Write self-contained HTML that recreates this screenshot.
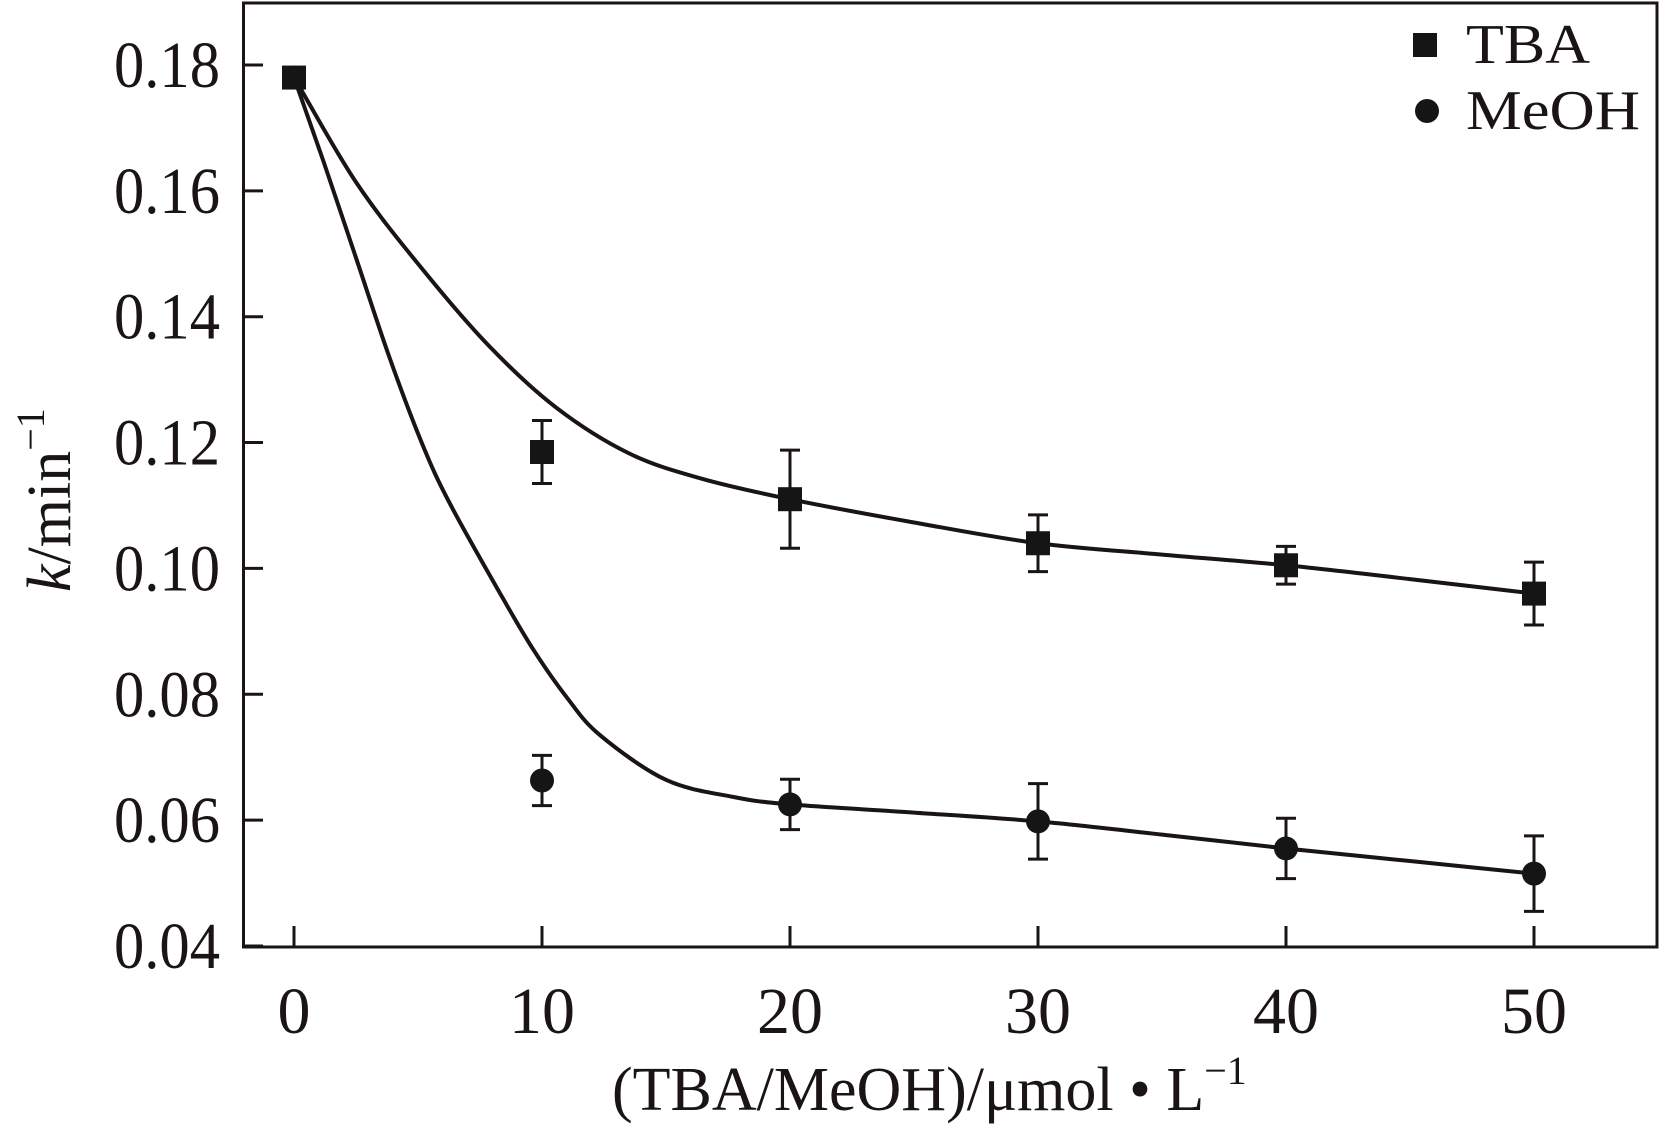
<!DOCTYPE html>
<html><head><meta charset="utf-8"><style>
html,body{margin:0;padding:0;background:#fff}
svg{display:block}
text{font-family:"Liberation Serif",serif;fill:#1a1414}
</style></head><body>
<svg id="chart" width="1662" height="1131" viewBox="0 0 1662 1131">
<rect x="243.5" y="3" width="1413.5" height="944" fill="none" stroke="#1a1414" stroke-width="3"/>
<g id="axes"></g>
<g id="series"></g>
<g>
<rect x="1413" y="33" width="24" height="24" fill="#151515"/>
<text x="1466" y="63" font-size="56" textLength="124" lengthAdjust="spacingAndGlyphs">TBA</text>
<circle cx="1427" cy="111" r="12" fill="#151515"/>
<text x="1466" y="129" font-size="56" textLength="174" lengthAdjust="spacingAndGlyphs">MeOH</text>
</g>
<text transform="translate(70,592) rotate(-90)" font-size="62"><tspan font-style="italic">k</tspan>/min<tspan font-size="40" dy="-26">−1</tspan></text>
<text x="612" y="1110" font-size="62">(TBA/MeOH)/μmol • L<tspan font-size="40" dy="-26">−1</tspan></text>
</svg>
<script>
const xTicks=[0,10,20,30,40,50];
const yTicks=[0.04,0.06,0.08,0.10,0.12,0.14,0.16,0.18];
const yTickLabels=["0.04","0.06","0.08","0.10","0.12","0.14","0.16","0.18"];
const concX=[0,10,20,30,40,50];
const tbaK=[0.178,0.1185,0.111,0.104,0.1005,0.096];
const tbaErr=[0.0005,0.005,0.0078,0.0045,0.003,0.005];
const meohK=[0.178,0.0663,0.0625,0.0598,0.0555,0.0515];
const meohErr=[0.0005,0.004,0.004,0.006,0.0048,0.006];
const tbaFitX=[0,2.53,5.21,7.9,10.59,13.5,16.4,20,25,30,35,40,45,50];
const tbaFitK=[0.178,0.1612,0.1474,0.1352,0.1255,0.1183,0.1143,0.111,0.1073,0.104,0.1022,0.1005,0.0983,0.096];
const meohFitX=[0,1.17,2.53,3.87,5.2,6.3,8.3,9.65,11.0,12.34,15.0,17.7,20,25,30,35,40,45,50];
const meohFitK=[0.178,0.1649,0.149,0.1333,0.1195,0.1102,0.0961,0.0871,0.0795,0.0735,0.0664,0.0637,0.0625,0.0612,0.0598,0.0577,0.0555,0.0535,0.0515];

const X=v=>294+v*24.8;
const Y=v=>946-(v-0.04)*6293;
const NS="http://www.w3.org/2000/svg";
function mk(tag,attrs,parent){const e=document.createElementNS(NS,tag);for(const k in attrs)e.setAttribute(k,attrs[k]);parent.appendChild(e);return e;}
const axes=document.getElementById('axes');
const series=document.getElementById('series');
const col="#1a1414";
xTicks.forEach(t=>{
  const l=mk('line',{x1:X(t),x2:X(t),y1:946,y2:926,stroke:col,'stroke-width':3},axes);
  
  
  const tx=mk('text',{x:X(t),y:1033,'font-size':66,'text-anchor':'middle'},axes);
  
  
  tx.textContent=String(t);
});
yTicks.forEach((t,i)=>{
  const l=mk('line',{x1:243.5,x2:263,y1:Y(t),y2:Y(t),stroke:col,'stroke-width':3},axes);
  
  
  const tx=mk('text',{x:220,y:Y(t)+22,'font-size':66,'text-anchor':'end',textLength:106,lengthAdjust:'spacingAndGlyphs'},axes);
  
  
  tx.textContent=yTickLabels[i];
});
function spline(xs,ys){
  const p=xs.map((x,i)=>[X(x),Y(ys[i])]);
  let d=`M${p[0][0]},${p[0][1]}`;
  for(let i=0;i<p.length-1;i++){
    const p1=p[i],p2=p[i+1];
    const p0=i>0?p[i-1]:[2*p1[0]-p2[0],2*p1[1]-p2[1]];
    const p3=i+2<p.length?p[i+2]:[2*p2[0]-p1[0],2*p2[1]-p1[1]];
    const c1=[p1[0]+(p2[0]-p0[0])/6,p1[1]+(p2[1]-p0[1])/6];
    const c2=[p2[0]-(p3[0]-p1[0])/6,p2[1]-(p3[1]-p1[1])/6];
    d+=`C${c1[0]},${c1[1]} ${c2[0]},${c2[1]} ${p2[0]},${p2[1]}`;
  }
  return d;
}
const f1=mk('path',{d:spline(meohFitX,meohFitK),fill:'none',stroke:col,'stroke-width':4},series);


const f2=mk('path',{d:spline(tbaFitX,tbaFitK),fill:'none',stroke:col,'stroke-width':4},series);


function errbar(x,v,e,name){
  const g=mk('path',{d:`M${X(x)},${Y(v+e)}V${Y(v-e)}M${X(x)-10},${Y(v+e)}h20M${X(x)-10},${Y(v-e)}h20`,stroke:col,'stroke-width':3,fill:'none'},series);
  
  
}
concX.forEach((x,i)=>{
  if(i>0){errbar(x,meohK[i],meohErr[i],'meoh-error-bar');}
  const c=mk('circle',{cx:X(x),cy:Y(meohK[i]),r:12,fill:'#151515'},series);
  
  
});
concX.forEach((x,i)=>{
  if(i>0){errbar(x,tbaK[i],tbaErr[i],'tba-error-bar');}
  const r=mk('rect',{x:X(x)-12,y:Y(tbaK[i])-12,width:24,height:24,fill:'#151515'},series);
  
  
});
</script>
</body></html>
